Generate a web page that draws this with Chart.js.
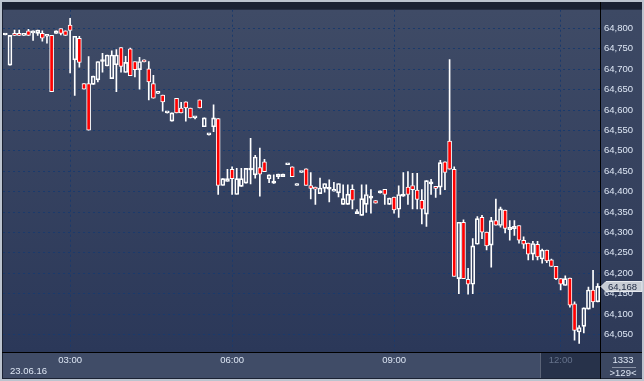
<!DOCTYPE html>
<html>
<head>
<meta charset="utf-8">
<script src="https://cdn.jsdelivr.net/npm/chart.js@4.4.1/dist/chart.umd.min.js"></script>
<style>
  html, body { margin: 0; padding: 0; background: #bcc4cf; }
  #wrap { width: 644px; height: 381px; position: relative; }
</style>
</head>
<body>
<div id="wrap"><canvas id="chart" width="644" height="381"></canvas></div>
<script>
// M5 candles
const opens = [
  64784, 64710, 64788, 64788, 64783, 64794, 64789, 64788, 64788, 64781,
  64783, 64788, 64800, 64794, 64808, 64723, 64776, 64665, 64665, 64663,
  64674, 64719, 64708, 64677, 64711, 64753, 64692, 64750, 64719, 64699,
  64723, 64701, 64665, 64641, 64637, 64593, 64573, 64629, 64605, 64620,
  64605, 64581, 64625, 64559, 64539, 64559, 64579, 64415, 64425, 64455,
  64393, 64413, 64421, 64453, 64441, 64459, 64473, 64431, 64421, 64437,
  64437, 64466, 64461, 64415, 64447, 64456, 64415, 64411, 64395, 64408,
  64406, 64401, 64397, 64369, 64369, 64406, 64346, 64342, 64369, 64384,
  64378, 64397, 64406, 64369, 64387, 64357, 64389, 64411, 64415, 64404,
  64379, 64345, 64419, 64413, 64411, 64473, 64524, 64455, 64187, 64325,
  64185, 64173, 64271, 64337, 64301, 64269, 64329, 64317, 64355, 64307,
  64309, 64317, 64281, 64274, 64247, 64271, 64235, 64257, 64233, 64217,
  64187, 64170, 64188, 64125, 64056, 64070, 64112, 64159, 64130
];
const highs = [
  64786, 64783, 64796, 64796, 64788, 64798, 64794, 64796, 64794, 64781,
  64783, 64794, 64800, 64794, 64825, 64781, 64781, 64665, 64731, 64683,
  64719, 64739, 64735, 64745, 64748, 64753, 64732, 64752, 64719, 64729,
  64723, 64719, 64685, 64641, 64637, 64593, 64593, 64629, 64619, 64620,
  64605, 64581, 64625, 64581, 64539, 64613, 64579, 64432, 64455, 64461,
  64457, 64457, 64457, 64531, 64489, 64507, 64479, 64441, 64441, 64443,
  64443, 64466, 64461, 64420, 64447, 64456, 64447, 64411, 64433, 64420,
  64429, 64423, 64420, 64417, 64417, 64417, 64356, 64417, 64417, 64405,
  64378, 64402, 64406, 64384, 64387, 64414, 64447, 64449, 64445, 64445,
  64405, 64427, 64430, 64413, 64477, 64473, 64724, 64461, 64325, 64331,
  64212, 64285, 64339, 64342, 64301, 64337, 64382, 64362, 64355, 64329,
  64329, 64317, 64289, 64274, 64278, 64278, 64259, 64257, 64235, 64217,
  64187, 64194, 64188, 64130, 64072, 64115, 64166, 64207, 64175
];
const lows = [
  64784, 64710, 64783, 64783, 64783, 64783, 64771, 64783, 64769, 64764,
  64645, 64788, 64784, 64783, 64691, 64636, 64705, 64651, 64551, 64663,
  64669, 64693, 64708, 64677, 64645, 64693, 64692, 64684, 64681, 64651,
  64718, 64625, 64629, 64641, 64597, 64593, 64573, 64593, 64593, 64573,
  64581, 64578, 64605, 64559, 64539, 64547, 64393, 64415, 64425, 64393,
  64393, 64413, 64421, 64419, 64433, 64389, 64449, 64422, 64421, 64432,
  64437, 64466, 64437, 64415, 64447, 64415, 64382, 64369, 64395, 64399,
  64375, 64401, 64387, 64369, 64369, 64358, 64346, 64342, 64349, 64347,
  64372, 64397, 64369, 64369, 64347, 64337, 64389, 64369, 64358, 64358,
  64321, 64315, 64393, 64386, 64393, 64405, 64455, 64192, 64150, 64187,
  64149, 64150, 64271, 64285, 64257, 64215, 64318, 64313, 64299, 64281,
  64293, 64274, 64261, 64233, 64233, 64233, 64225, 64226, 64217, 64184,
  64159, 64170, 64117, 64036, 64028, 64054, 64112, 64116, 64130
];
const closes = [
  64786, 64783, 64783, 64783, 64788, 64783, 64794, 64796, 64776, 64781,
  64645, 64794, 64788, 64783, 64795, 64781, 64717, 64651, 64551, 64683,
  64719, 64719, 64735, 64735, 64735, 64707, 64717, 64684, 64699, 64719,
  64718, 64669, 64629, 64641, 64620, 64593, 64593, 64593, 64593, 64605,
  64581, 64581, 64605, 64581, 64539, 64581, 64415, 64432, 64432, 64432,
  64432, 64432, 64457, 64453, 64485, 64443, 64449, 64441, 64421, 64443,
  64443, 64466, 64437, 64420, 64447, 64415, 64408, 64406, 64409, 64420,
  64406, 64406, 64420, 64383, 64394, 64379, 64346, 64383, 64393, 64384,
  64372, 64397, 64393, 64384, 64355, 64393, 64389, 64393, 64405, 64381,
  64357, 64427, 64419, 64408, 64471, 64447, 64455, 64192, 64325, 64187,
  64173, 64267, 64334, 64301, 64267, 64329, 64318, 64358, 64310, 64313,
  64315, 64281, 64271, 64247, 64273, 64240, 64257, 64230, 64217, 64187,
  64173, 64187, 64122, 64060, 64067, 64115, 64159, 64130, 64168
];

// time axis
const tickIndex = [14, 49, 84, 120];
const tickLabels = ['03:00', '06:00', '09:00', '12:00'];
const dateLabel = '23.06.16';
const cornerTop = '1333';
const cornerBottom = '>129<';

// price axis
const yMin = 64007;
const yMax = 64846;
const yStep = 50;

const FONT = '"Liberation Sans", Arial, sans-serif';
const GRID = '#1a3a6c';
const labels = opens.map((o, i) => i);

const bodyData = opens.map((o, i) => [o, closes[i]]);
const upperWick = opens.map((o, i) => [Math.max(o, closes[i]), highs[i]]);
const lowerWick = opens.map((o, i) => [lows[i], Math.min(o, closes[i])]);

// backgrounds and frame
const panelPlugin = {
    id: 'panels',
    beforeDraw(chart) {
        const c = chart.ctx;
        const a = chart.chartArea;
        c.save();
        c.fillStyle = '#bcc4cf';
        c.fillRect(0, 0, 644, 381);
        c.fillStyle = '#1b2233';
        c.fillRect(2, 2, 640, 377);

        let g = c.createLinearGradient(0, a.top, 0, a.bottom);
        g.addColorStop(0, '#3f4b66');
        g.addColorStop(1, '#2b3859');
        c.fillStyle = g;
        c.fillRect(a.left, a.top, a.right - a.left, a.bottom - a.top);

        g = c.createLinearGradient(0, a.top, 0, a.bottom);
        g.addColorStop(0, '#3d4964');
        g.addColorStop(1, '#2e3a58');
        c.fillStyle = g;
        c.fillRect(a.right + 1, a.top, 641 - a.right, a.bottom - a.top);

        // time axis strip
        c.fillStyle = '#404c67';
        c.fillRect(a.left, a.bottom + 1, a.right - a.left, 378 - a.bottom - 1);
        c.fillStyle = '#5b6478';
        c.fillRect(540, a.bottom + 1, 1, 378 - a.bottom - 1);
        c.fillStyle = '#27324a';
        c.fillRect(541, a.bottom + 1, a.right - 541, 378 - a.bottom - 1);

        // corner box
        c.fillStyle = '#3b4761';
        c.fillRect(a.right + 1, a.bottom + 1, 641 - a.right, 378 - a.bottom - 1);
        c.restore();
    },
    afterDraw(chart) {
        const c = chart.ctx;
        const a = chart.chartArea;
        c.save();
        c.fillStyle = '#000000';
        c.fillRect(a.right, 2, 1, 377);
        c.fillRect(2, a.bottom, 640, 1);

        // last price marker
        const last = closes[closes.length - 1];
        const py = Math.round(chart.scales.y.getPixelForValue(last)) + 0.5;
        c.beginPath();
        c.moveTo(a.right + 1, py);
        c.lineTo(a.right + 6, py - 5);
        c.lineTo(642, py - 5);
        c.lineTo(642, py + 5);
        c.lineTo(a.right + 6, py + 5);
        c.closePath();
        c.fillStyle = '#c8cdd5';
        c.fill();
        c.strokeStyle = '#e6e9ee';
        c.lineWidth = 1;
        c.stroke();
        c.fillStyle = '#1f2a43';
        c.font = '9.5px ' + FONT;
        c.textBaseline = 'middle';
        c.textAlign = 'left';
        c.fillText(last.toLocaleString('en-US'), a.right + 8, py + 0.5);

        // date under the first time label
        c.fillStyle = '#dde6f4';
        c.fillText(dateLabel, 10, 371);

        // corner counters
        c.textAlign = 'center';
        c.fillText(cornerTop, 623, 360);
        c.fillText(cornerBottom, 623, 373);
        c.fillStyle = '#8a93a6';
        c.fillRect(612, 367, 24, 1);
        c.restore();
    }
};

new Chart(document.getElementById('chart'), {
    type: 'bar',
    data: {
        labels: labels,
        datasets: [
            {
                label: 'body',
                data: bodyData,
                order: 0,
                grouped: false,
                barThickness: 4,
                minBarLength: 2,
                borderWidth: 1,
                borderSkipped: false,
                borderColor: '#ffffff',
                backgroundColor: ctx => closes[ctx.dataIndex] < opens[ctx.dataIndex] ? '#ff0000' : 'rgba(0,0,0,0)'
            },
            {
                label: 'upper',
                data: upperWick,
                order: 1,
                grouped: false,
                barThickness: 1,
                borderWidth: 0,
                backgroundColor: '#ffffff'
            },
            {
                label: 'lower',
                data: lowerWick,
                order: 1,
                grouped: false,
                barThickness: 1,
                borderWidth: 0,
                backgroundColor: '#ffffff'
            }
        ]
    },
    options: {
        responsive: false,
        animation: false,
        layout: { padding: { left: 3, top: 3, right: 3, bottom: 3 } },
        plugins: {
            legend: { display: false },
            tooltip: { enabled: false }
        },
        scales: {
            x: {
                type: 'category',
                offset: true,
                afterFit: scale => { scale.height = 26; },
                border: { display: false, dash: [2, 3] },
                grid: {
                    offset: false,
                    drawTicks: false,
                    lineWidth: 1,
                    color: ctx => tickIndex.includes(ctx.index) ? GRID : 'rgba(0,0,0,0)'
                },
                ticks: {
                    autoSkip: false,
                    maxRotation: 0,
                    padding: 3,
                    font: { family: FONT, size: 9.5 },
                    color: ctx => ctx.index === 120 ? '#66738c' : '#dde6f4',
                    callback: (v, i) => {
                        const k = tickIndex.indexOf(i);
                        return k >= 0 ? tickLabels[k] : '';
                    }
                }
            },
            y: {
                position: 'right',
                min: yMin,
                max: yMax,
                afterFit: scale => { scale.width = 41; },
                border: { display: false, dash: [2, 3] },
                grid: {
                    drawTicks: false,
                    color: GRID,
                    lineWidth: 1
                },
                ticks: {
                    stepSize: yStep,
                    includeBounds: false,
                    padding: 4,
                    font: { family: FONT, size: 9.5 },
                    color: '#dde6f4',
                    callback: v => v.toLocaleString('en-US')
                }
            }
        }
    },
    plugins: [panelPlugin]
});
</script>
</body>
</html>
